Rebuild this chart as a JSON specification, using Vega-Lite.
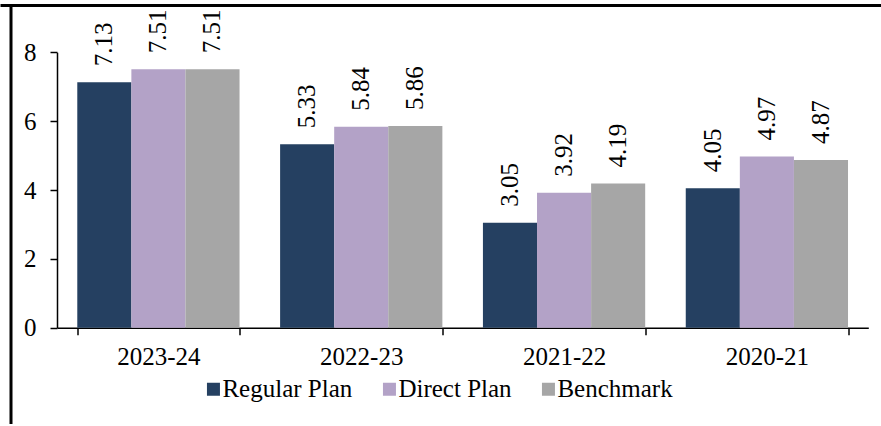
{
  "$schema": "https://vega.github.io/schema/vega-lite/v6.json",
  "width": 870.5,
  "height": 419,
  "autosize": {"type": "none"},
  "padding": {"left": 10.5, "top": 5, "right": 0, "bottom": 0},
  "background": "white",
  "config": {
    "view": {"stroke": null},
    "font": "Liberation Serif",
    "axis": {"grid": false}
  },
  "data": {
    "values": [
      {"year": "2023-24", "series": "Regular Plan", "value": 7.13},
      {"year": "2023-24", "series": "Direct Plan", "value": 7.51},
      {"year": "2023-24", "series": "Benchmark", "value": 7.51},
      {"year": "2022-23", "series": "Regular Plan", "value": 5.33},
      {"year": "2022-23", "series": "Direct Plan", "value": 5.84},
      {"year": "2022-23", "series": "Benchmark", "value": 5.86},
      {"year": "2021-22", "series": "Regular Plan", "value": 3.05},
      {"year": "2021-22", "series": "Direct Plan", "value": 3.92},
      {"year": "2021-22", "series": "Benchmark", "value": 4.19},
      {"year": "2020-21", "series": "Regular Plan", "value": 4.05},
      {"year": "2020-21", "series": "Direct Plan", "value": 4.97},
      {"year": "2020-21", "series": "Benchmark", "value": 4.87}
    ]
  },
  "layer": [
    {
      "mark": {"type": "bar"},
      "encoding": {
        "x": {
          "field": "year", "type": "nominal",
          "sort": ["2023-24", "2022-23", "2021-22", "2020-21"],
          "scale": {"range": [46.5, 857.8], "paddingInner": 0.2, "paddingOuter": 0.1},
          "axis": {
            "title": null, "labelAngle": 0, "offset": -96.3,
            "tickBand": "extent", "tickSize": 7, "tickWidth": 1.5, "tickColor": "black",
            "domainColor": "black", "domainWidth": 1.5,
            "labelFont": "Liberation Serif", "labelFontSize": 25, "labelColor": "black",
            "labelPadding": 10
          }
        },
        "xOffset": {"field": "series", "type": "nominal", "sort": ["Regular Plan", "Direct Plan", "Benchmark"]},
        "y": {
          "field": "value", "type": "quantitative",
          "scale": {"domain": [0, 8], "range": [322.7, 47.3], "nice": false},
          "axis": {
            "title": null, "values": [0, 2, 4, 6, 8], "offset": -46.5,
            "tickSize": 7, "tickWidth": 1.5, "tickColor": "black",
            "domainColor": "black", "domainWidth": 1.5,
            "labelFont": "Liberation Serif", "labelFontSize": 25, "labelColor": "black",
            "labelPadding": 14
          }
        },
        "color": {
          "field": "series", "type": "nominal",
          "sort": ["Regular Plan", "Direct Plan", "Benchmark"],
          "scale": {"domain": ["Regular Plan", "Direct Plan", "Benchmark"], "range": ["#254061", "#B3A2C7", "#A6A6A6"]},
          "legend": {
            "title": null, "orient": "none", "direction": "horizontal",
            "legendX": 195.2, "legendY": 371.5,
            "symbolType": "square", "symbolSize": 169, "symbolStrokeWidth": 0,
            "symbolOffset": -4.75,
            "labelFont": "Liberation Serif", "labelFontSize": 25, "labelColor": "black",
            "labelOffset": -3.5, "columnPadding": 29, "padding": 0, "labelLimit": 300
          }
        }
      }
    },
    {
      "mark": {"type": "text", "angle": 270, "align": "left", "baseline": "middle", "dx": 16, "font": "Liberation Serif", "fontSize": 25, "color": "black"},
      "encoding": {
        "x": {
          "field": "year", "type": "nominal",
          "sort": ["2023-24", "2022-23", "2021-22", "2020-21"],
          "scale": {"range": [46.5, 857.8], "paddingInner": 0.2, "paddingOuter": 0.1},
          "axis": null
        },
        "xOffset": {"field": "series", "type": "nominal", "sort": ["Regular Plan", "Direct Plan", "Benchmark"]},
        "y": {
          "field": "value", "type": "quantitative",
          "scale": {"domain": [0, 8], "range": [322.7, 47.3], "nice": false},
          "axis": null
        },
        "text": {"field": "value", "type": "quantitative", "format": ".2f"}
      }
    },
    {
      "mark": {"type": "point", "opacity": 0},
      "encoding": {
        "x": {
          "datum": 0, "type": "quantitative",
          "scale": {"domain": [0, 1], "range": [-10.5, 870.5]},
          "axis": {"orient": "top", "offset": 0, "title": null, "labels": false, "ticks": false, "grid": false, "domainColor": "black", "domainWidth": 3}
        },
        "y": {
          "datum": 0, "type": "quantitative",
          "scale": {"domain": [0, 1]},
          "axis": {"orient": "left", "offset": 0, "title": null, "labels": false, "ticks": false, "grid": false, "domainColor": "black", "domainWidth": 3}
        }
      }
    }
  ],
  "resolve": {
    "scale": {"x": "independent", "y": "independent"},
    "axis": {"x": "independent", "y": "independent"}
  }
}
